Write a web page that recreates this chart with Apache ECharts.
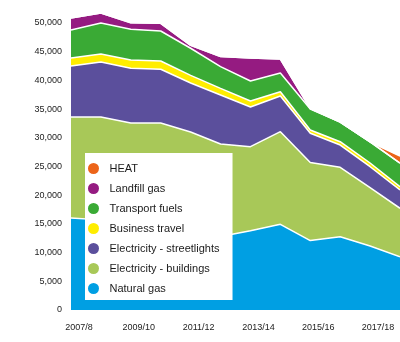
<!DOCTYPE html>
<html><head><meta charset="utf-8">
<script src="https://cdn.jsdelivr.net/npm/echarts@6/dist/echarts.min.js"></script>
<style>html,body{margin:0;padding:0;background:#fff}#c{width:400px;height:342px}</style>
</head><body><div id="c"></div>
<script>
const categories = ['2007/8','2008/9','2009/10','2010/11','2011/12','2012/13','2013/14','2014/15','2015/16','2016/17','2017/18','2018/19'];
const naturalGas = [16030,15700,15000,14300,13600,12800,13800,14930,12100,12770,11150,9290];
const elecBuildings = [17590,17920,17580,18280,17400,16120,14650,16130,13600,12080,10150,8430];
const elecStreetlights = [8880,9580,9520,9350,8540,8530,6910,6220,5080,3890,3660,3180];
const businessTravel = [1400,1400,1450,1450,1330,1150,1040,750,580,580,650,580];
const transportFuels = [4880,5400,5350,5220,4730,3800,3490,3260,3650,3430,3660,4120];
const landfillGas = [2090,1740,1150,1340,500,1740,4000,2430,80,0,0,0];
const heat = [0,0,0,0,0,0,0,0,0,0,0,1200];
const yTicks = [0,5000,10000,15000,20000,25000,30000,35000,40000,45000,50000];

const seriesDefs = [
  ['Natural gas', naturalGas, '#009FE3'],
  ['Electricity - buildings', elecBuildings, '#A8C858'],
  ['Electricity - streetlights', elecStreetlights, '#5B4F9C'],
  ['Business travel', businessTravel, '#FFED00'],
  ['Transport fuels', transportFuels, '#3AAA35'],
  ['Landfill gas', landfillGas, '#951B81'],
  ['HEAT', heat, '#EC6419']
];
const font = '"Liberation Sans", Arial, sans-serif';
const chart = echarts.init(document.getElementById('c'), null, {renderer:'canvas'});
chart.setOption({
  animation:false,
  backgroundColor:'#fff',
  grid:{left:71, right:0, top:11.5, bottom:32},
  legend:{
    data:['HEAT','Landfill gas','Transport fuels','Business travel','Electricity - streetlights','Electricity - buildings','Natural gas'],
    orient:'vertical', left:85, top:153,
    icon:'circle', itemWidth:22, itemHeight:11, itemGap:9,
    backgroundColor:'#fff', padding:[10,13,6,3],
    textStyle:{fontFamily:font, fontSize:11, color:'#1a1a1a', lineHeight:11},
    selectedMode:false
  },
  xAxis:{
    type:'category', data:categories, boundaryGap:false,
    axisLine:{show:false}, axisTick:{show:false},
    axisLabel:{interval:1, fontFamily:font, fontSize:9, color:'#222', margin:13, padding:[0,0,0,16]},
    splitLine:{show:false}
  },
  yAxis:{
    type:'value', min:0, max:52000, interval:5000,
    axisLine:{show:false}, axisTick:{show:false}, splitLine:{show:false},
    axisLabel:{showMaxLabel:false, fontFamily:font, fontSize:9, color:'#222', margin:9,
      formatter:v=> yTicks.includes(v) ? v.toLocaleString('en-US') : ''}
  },
  series: seriesDefs.map(([name,data,color])=>({
    name, type:'line', stack:'total', data, symbol:'none', color,
    lineStyle:{color:'#fff', width:1.5},
    areaStyle:{color, opacity:1},
    itemStyle:{color}
  }))
});
</script></body></html>
